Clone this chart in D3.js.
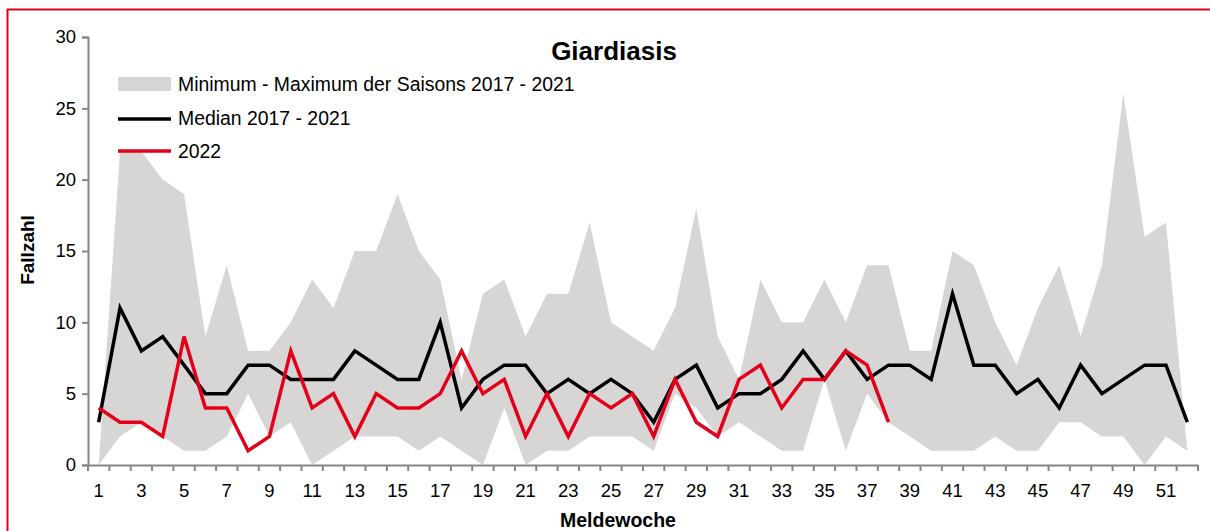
<!DOCTYPE html>
<html>
<head>
<meta charset="utf-8">
<script src="https://cdn.jsdelivr.net/npm/d3@7"></script>
<style>
  html, body { margin: 0; padding: 0; background: #fff; }
  svg { display: block; }
  text { font-family: "Liberation Sans", Arial, sans-serif; fill: #000; }
</style>
</head>
<body>
<svg id="chart" width="1210" height="531"></svg>
<script>
const weeks = [1,2,3,4,5,6,7,8,9,10,11,12,13,14,15,16,17,18,19,20,21,22,23,24,25,26,
               27,28,29,30,31,32,33,34,35,36,37,38,39,40,41,42,43,44,45,46,47,48,49,50,51,52];
const minValues = [0,2,3,2,1,1,2,5,2,3,0,1,2,2,2,1,2,1,0,4,0,1,1,2,2,2,
                   1,5,4,2,3,2,1,1,6,1,5,3,2,1,1,1,2,1,1,3,3,2,2,0,2,1];
const maxValues = [0,22,22,20,19,9,14,8,8,10,13,11,15,15,19,15,13,6,12,13,9,12,12,17,10,9,
                   8,11,18,9,6,13,10,10,13,10,14,14,8,8,15,14,10,7,11,14,9,14,26,16,17,1];
const medianValues = [3,11,8,9,7,5,5,7,7,6,6,6,8,7,6,6,10,4,6,7,7,5,6,5,6,5,
                      3,6,7,4,5,5,6,8,6,8,6,7,7,6,12,7,7,5,6,4,7,5,6,7,7,3];
const values2022 = [4,3,3,2,9,4,4,1,2,8,4,5,2,5,4,4,5,8,5,6,2,5,2,5,4,5,
                    2,6,3,2,6,7,4,6,6,8,7,3];
const yTicks = [0,5,10,15,20,25,30];
const xTickLabels = weeks.filter(w => w % 2 === 1);
const title = "Giardiasis";
const legendLabels = ["Minimum - Maximum der Saisons 2017 - 2021", "Median 2017 - 2021", "2022"];

const svg = d3.select("#chart");
const RED = "#e2001a";
const GREY_FILL = "#d8d5d5";
const AXIS = "#868686";

// frame
svg.append("rect").attr("x", 7.5).attr("y", 9.5).attr("width", 1220).attr("height", 540)
  .attr("fill", "none").attr("stroke", RED).attr("stroke-width", 2);

const x = d3.scaleBand().domain(weeks).range([88, 1198]);
const xc = w => x(w) + x.bandwidth() / 2;
const y = d3.scaleLinear().domain([0, 30]).range([465, 37]);

const bandData = weeks.map((w, i) => ({w, lo: minValues[i], hi: maxValues[i]}));
svg.append("path").datum(bandData)
  .attr("fill", GREY_FILL)
  .attr("d", d3.area().x(d => xc(d.w)).y0(d => y(d.lo)).y1(d => y(d.hi)));

// axes
const yAxis = d3.axisLeft(y).tickValues(yTicks).tickSize(6).tickPadding(6);
const gy = svg.append("g").attr("transform", "translate(88,0)").call(yAxis);
gy.select(".domain").attr("stroke", AXIS).attr("stroke-width", 2);
gy.selectAll(".tick line").attr("stroke", AXIS).attr("stroke-width", 2);
gy.selectAll(".tick text").style("font-size", "18.5px").style("font-family", "Liberation Sans, Arial, sans-serif").attr("fill", "#000");

const xAxis = d3.axisBottom(x).tickValues(xTickLabels).tickSize(0).tickPadding(19);
const gx = svg.append("g").attr("transform", "translate(0,465)").call(xAxis);
gx.select(".domain").attr("stroke", AXIS).attr("stroke-width", 2);
gx.selectAll(".tick text").style("font-size", "18.5px").style("font-family", "Liberation Sans, Arial, sans-serif").attr("fill", "#000");
// tick marks at band boundaries
const boundaries = weeks.map(w => x(w)).concat([x.range()[1]]);
gx.selectAll("line.bt").data(boundaries).enter().append("line").attr("class", "bt")
  .attr("x1", d => d).attr("x2", d => d).attr("y1", 0).attr("y2", 6)
  .attr("stroke", AXIS).attr("stroke-width", 2);

// lines
const line = d3.line().x(d => xc(d.w)).y(d => y(d.v));
svg.append("path").datum(weeks.map((w, i) => ({w, v: medianValues[i]})))
  .attr("fill", "none").attr("stroke", "#000").attr("stroke-width", 3.5)
  .attr("stroke-linejoin", "miter").attr("d", line);
svg.append("path").datum(values2022.map((v, i) => ({w: weeks[i], v})))
  .attr("fill", "none").attr("stroke", RED).attr("stroke-width", 3.5)
  .attr("stroke-linejoin", "miter").attr("d", line);

// title
svg.append("text").attr("x", 614).attr("y", 60).attr("text-anchor", "middle")
  .style("font-size", "26px").style("font-weight", "bold").text(title);

// legend
const lg = svg.append("g");
lg.append("rect").attr("x", 118).attr("y", 77).attr("width", 53).attr("height", 14).attr("fill", GREY_FILL);
lg.append("line").attr("x1", 118).attr("x2", 171).attr("y1", 119).attr("y2", 119)
  .attr("stroke", "#000").attr("stroke-width", 3.5);
lg.append("line").attr("x1", 118).attr("x2", 171).attr("y1", 151).attr("y2", 151)
  .attr("stroke", RED).attr("stroke-width", 3.5);
[91, 125, 158].forEach((yy, i) => {
  lg.append("text").attr("x", 178).attr("y", yy).style("font-size", "19.4px").text(legendLabels[i]);
});

// axis titles
svg.append("text").attr("transform", "translate(34,250) rotate(-90)").attr("text-anchor", "middle")
  .style("font-size", "19px").style("font-weight", "bold").text("Fallzahl");
svg.append("text").attr("x", 618).attr("y", 527).attr("text-anchor", "middle")
  .style("font-size", "19.5px").style("font-weight", "bold").text("Meldewoche");
</script>
</body>
</html>
